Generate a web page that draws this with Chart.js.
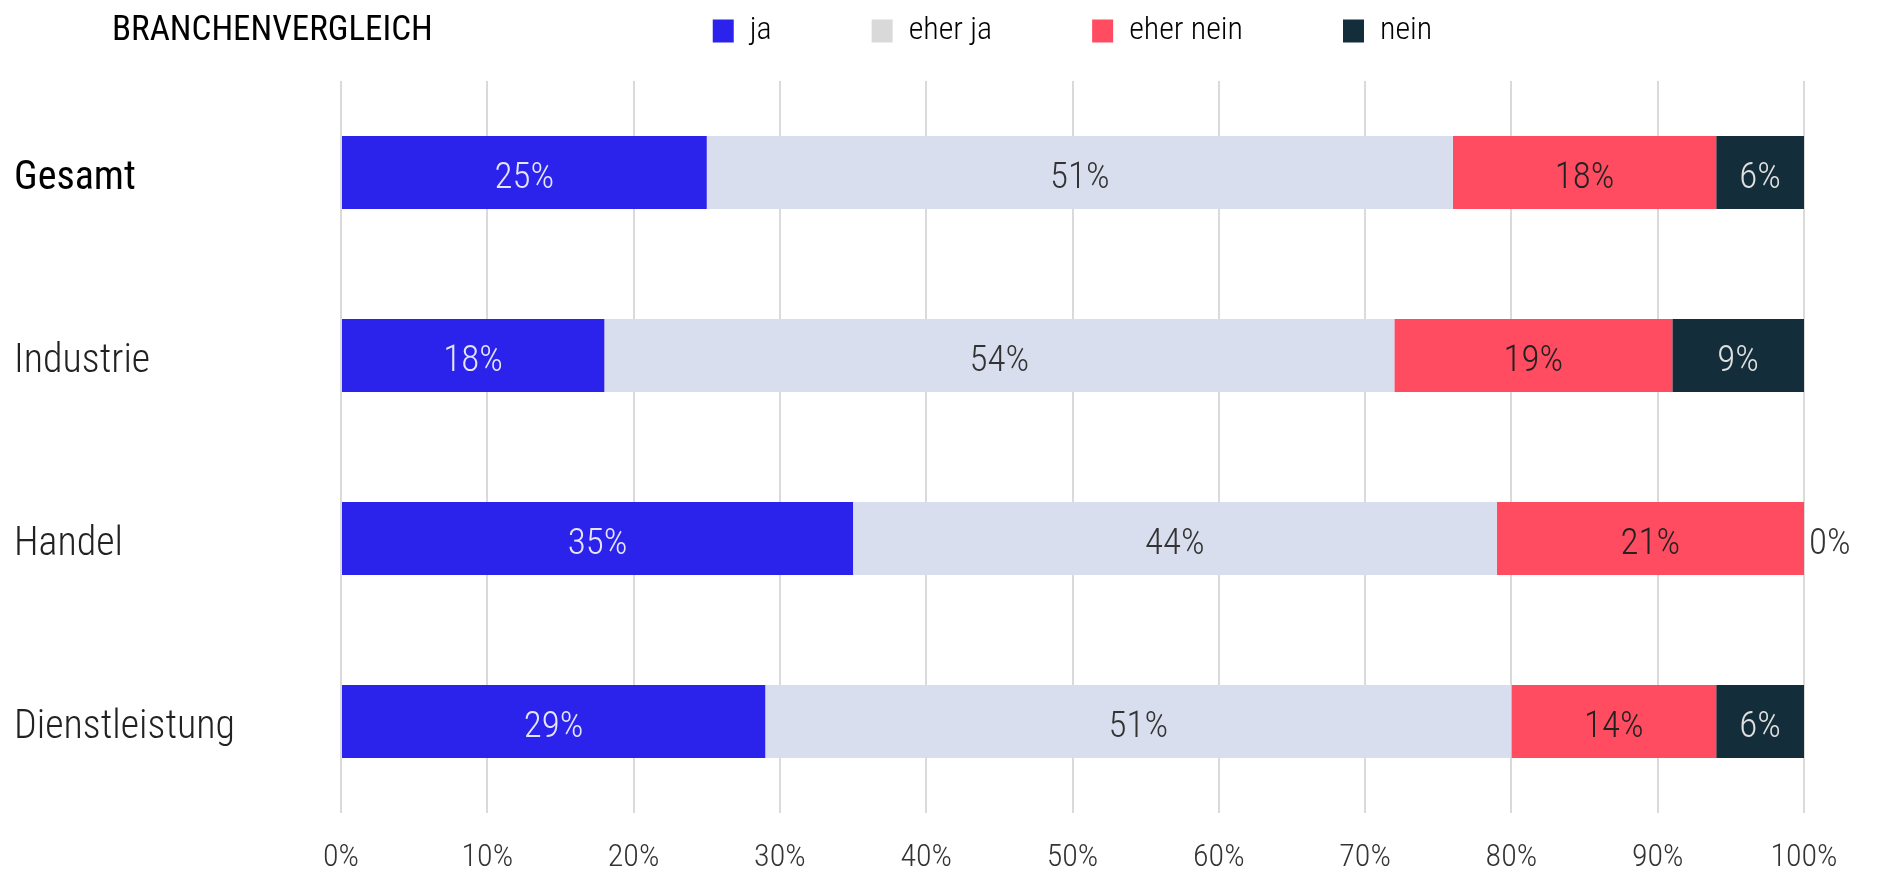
<!DOCTYPE html>
<html>
<head>
<meta charset="utf-8">
<script src="https://cdn.jsdelivr.net/npm/chart.js@4/dist/chart.umd.min.js"></script>
<style>
  body { margin: 0; background: #fff; }
  canvas { display: block; }
</style>
</head>
<body>
<canvas id="myChart" width="1877" height="872"></canvas>
<script>
const FONT = "'Roboto Condensed', 'Liberation Sans', sans-serif";

const categories = ["Gesamt", "Industrie", "Handel", "Dienstleistung"];
const seriesNames = ["ja", "eher ja", "eher nein", "nein"];
const ja = [25, 18, 35, 29];
const eherJa = [51, 54, 44, 51];
const eherNein = [18, 19, 21, 14];
const nein = [6, 9, 0, 6];
const tickValues = [0, 10, 20, 30, 40, 50, 60, 70, 80, 90, 100];

const barColors = ["#2b22ec", "#d9deef", "#ff4c61", "#142d3a"];
const legendColors = ["#2b22ec", "#d9d9d9", "#ff4c61", "#142d3a"];
const labelColors = ["#e6e6fa", "#333333", "#222222", "#e0e0e0"];

// title on the left of the legend row
const titlePlugin = {
  id: "sideTitle",
  afterDraw(chart) {
    const ctx = chart.ctx;
    ctx.save();
    ctx.font = "400 35px " + FONT;
    ctx.fillStyle = "#000";
    ctx.textBaseline = "middle";
    ctx.textAlign = "left";
    ctx.fillText("BRANCHENVERGLEICH", 112, 31);
    ctx.restore();
  }
};

// percentage labels on the bars
const valueLabels = {
  id: "valueLabels",
  afterDatasetsDraw(chart) {
    const ctx = chart.ctx;
    chart.data.datasets.forEach((ds, i) => {
      const meta = chart.getDatasetMeta(i);
      meta.data.forEach((bar, j) => {
        const v = ds.data[j];
        const p = bar.getProps(["x", "y", "base"], true);
        ctx.save();
        ctx.font = "300 37px " + FONT;
        ctx.textBaseline = "middle";
        if (v === 0) {
          ctx.fillStyle = "#333";
          ctx.textAlign = "left";
          ctx.fillText(v + "%", p.x + 5, p.y + 6);
        } else {
          ctx.fillStyle = labelColors[i];
          ctx.textAlign = "center";
          ctx.fillText(v + "%", (p.x + p.base) / 2, p.y + 6);
        }
        ctx.restore();
      });
    });
  }
};

const ctx = document.getElementById("myChart").getContext("2d");
const myChart = new Chart(ctx, {
  type: "bar",
  data: {
    labels: categories,
    datasets: [ja, eherJa, eherNein, nein].map((d, i) => ({
      label: seriesNames[i],
      data: d,
      backgroundColor: barColors[i],
      borderWidth: 0,
      categoryPercentage: 1,
      barPercentage: 0.4
    }))
  },
  options: {
    indexAxis: "y",
    responsive: false,
    animation: false,
    layout: { padding: { top: -85, left: 14, right: 73, bottom: 0 } },
    plugins: {
      tooltip: { enabled: false },
      legend: {
        position: "top",
        fullSize: false,
        labels: {
          font: { family: FONT, size: 32, weight: 300 },
          color: "#111",
          boxWidth: 21,
          boxHeight: 23,
          padding: 100,
          generateLabels: (chart) => seriesNames.map((n, i) => ({
            text: n,
            fillStyle: legendColors[i],
            strokeStyle: legendColors[i],
            lineWidth: 0,
            datasetIndex: i,
            hidden: false
          }))
        }
      }
    },
    scales: {
      x: {
        stacked: true,
        min: 0,
        max: 100,
        afterBuildTicks: (s) => { s.ticks = tickValues.map(v => ({ value: v })); },
        afterFit: (s) => { s.height = 59; },
        ticks: {
          padding: 26,
          color: "#333",
          font: { family: FONT, size: 32, weight: 300 },
          callback: (v) => v + "%"
        },
        grid: { color: "#dadada", lineWidth: 2, drawTicks: false },
        border: { display: false }
      },
      x2: {
        position: "top",
        display: true,
        afterFit: (s) => { s.height = 24; },
        ticks: { display: false },
        grid: { display: false },
        border: { display: false }
      },
      y: {
        stacked: true,
        afterFit: (s) => { s.width = 327; },
        ticks: {
          crossAlign: "far",
          labelOffset: 6,
          color: (c) => c.index === 0 ? "#000" : "#222",
          font: (c) => ({ family: FONT, size: 40, weight: c.index === 0 ? 400 : 300 })
        },
        grid: { display: false },
        border: { display: false }
      }
    }
  },
  plugins: [titlePlugin, valueLabels]
});
</script>
</body>
</html>
